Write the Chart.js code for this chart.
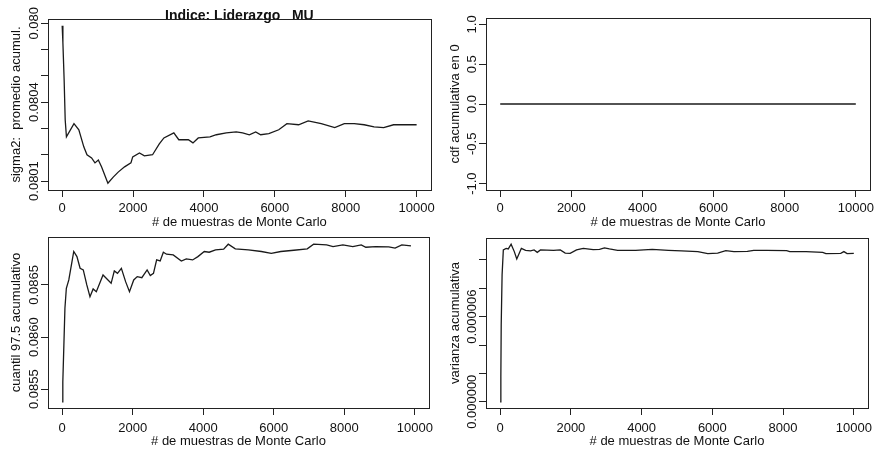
<!DOCTYPE html>
<html>
<head>
<meta charset="utf-8">
<script src="https://cdn.jsdelivr.net/npm/chart.js@4.4.1/dist/chart.umd.min.js"></script>
<style>
  html, body { margin: 0; padding: 0; background: #fff; }
  #page { position: relative; width: 878px; height: 449px; overflow: hidden; background: #fff; }
  canvas { position: absolute; }
</style>
</head>
<body>
<div id="page">
  <canvas id="c1" width="439" height="232" style="left:0;top:0"></canvas>
  <canvas id="c2" width="439" height="232" style="left:439px;top:0"></canvas>
  <canvas id="c3" width="439" height="224" style="left:0;top:225px"></canvas>
  <canvas id="c4" width="439" height="224" style="left:439px;top:225px"></canvas>
</div>
<script>
// textos
const mainTitle = 'Indice: Liderazgo   MU';
const xTitle = '# de muestras de Monte Carlo';
const xTicks = [0, 2000, 4000, 6000, 8000, 10000];

// panel 1: sigma2 promedio acumulado
const xs1 = [0, 20, 55, 85, 120, 333, 470, 610, 700, 830, 925, 1020, 1110, 1290, 1440, 1580, 1760, 1940, 1990, 2180,
  2320, 2550, 2740, 2870, 3150, 3290, 3560, 3690, 3840, 4170, 4350, 4630, 4910, 5090, 5280, 5460, 5600, 5830, 6110, 6340,
  6670, 6940, 7310, 7690, 7960, 8240, 8520, 8800, 9070, 9350, 9630, 10000];
const ys1 = [0.08069, 0.080627, 0.080486, 0.080333, 0.080268, 0.080318, 0.080295, 0.08023, 0.0802, 0.080188, 0.080169, 0.08018,
  0.080154, 0.080092, 0.080115, 0.080134, 0.080154, 0.080169, 0.080192, 0.080207, 0.080196, 0.0802, 0.080241, 0.080264,
  0.080283, 0.080257, 0.080257, 0.080245, 0.080264, 0.080268, 0.080276, 0.080283, 0.080287, 0.080283, 0.080276, 0.080287,
  0.080276, 0.08028, 0.080295, 0.080318, 0.080314, 0.080329, 0.080318, 0.080303, 0.080318, 0.080318, 0.080314, 0.080306,
  0.080303, 0.080314, 0.080314, 0.080314];
const yTicks1 = [0.0801, 0.0802, 0.0803, 0.0804, 0.0805, 0.0806, 0.0807];
const yLabels1 = ['0.0801', '', '', '0.0804', '', '', '0.080'];

// panel 2: cdf acumulativa en 0
const xs2 = [0, 10000];
const ys2 = [0, 0];
const yTicks2 = [-1, -0.5, 0, 0.5, 1];
const yLabels2 = ['-1.0', '-0.5', '0.0', '0.5', '1.0'];

// panel 3: cuantil 97.5 acumulativo
const xs3 = [0, 20, 50, 80, 120, 190, 280, 330, 420, 510, 600, 700, 790, 880, 970, 1160, 1390, 1480, 1570, 1680, 1800,
  1910, 2030, 2130, 2260, 2410, 2500, 2590, 2680, 2780, 2870, 2960, 3150, 3380, 3520, 3700, 3850, 4030, 4170, 4350, 4580,
  4710, 4910, 5280, 5650, 5930, 6200, 6570, 6950, 7130, 7500, 7680, 7960, 8240, 8480, 8610, 8890, 9260, 9440, 9630, 9890];
const ys3 = [0.085378, 0.08557, 0.085923, 0.086276, 0.086468, 0.086548, 0.086724, 0.086821, 0.086772, 0.08666, 0.086644,
  0.0865, 0.086388, 0.086462, 0.086436, 0.086596, 0.086516, 0.086635, 0.086612, 0.08666, 0.086532, 0.086436, 0.086548,
  0.08658, 0.08657, 0.086644, 0.08659, 0.086612, 0.08674, 0.08673, 0.086814, 0.086795, 0.086788, 0.08673, 0.08675, 0.08674,
  0.086772, 0.086821, 0.086814, 0.086837, 0.086843, 0.086891, 0.086846, 0.086837, 0.086821, 0.086804, 0.086821, 0.086833,
  0.086846, 0.086891, 0.086885, 0.086868, 0.086885, 0.086868, 0.086885, 0.086862, 0.086868, 0.086865, 0.086853, 0.086885,
  0.086875];
const yTicks3 = [0.0855, 0.0860, 0.0865];
const yLabels3 = ['0.0855', '0.0860', '0.0865'];

// panel 4: varianza acumulativa
const xs4 = [0, 20, 30, 55, 90, 170, 230, 310, 400, 470, 540, 600, 720, 860, 960, 1050, 1140, 1510, 1700, 1840, 1980,
  2160, 2350, 2630, 2810, 2950, 3090, 3320, 3830, 4300, 4760, 5130, 5590, 5870, 6150, 6380, 6610, 6990, 7170, 7540, 8100,
  8190, 8650, 9120, 9210, 9630, 9720, 9810, 10000];
const ys4 = [0, 1.76e-6, 5.41e-6, 8.94e-6, 10.71e-6, 10.82e-6, 10.78e-6, 11.11e-6, 10.59e-6, 10.07e-6, 10.47e-6, 10.82e-6,
  10.68e-6, 10.64e-6, 10.71e-6, 10.54e-6, 10.71e-6, 10.68e-6, 10.71e-6, 10.49e-6, 10.47e-6, 10.71e-6, 10.82e-6, 10.73e-6,
  10.75e-6, 10.85e-6, 10.78e-6, 10.68e-6, 10.68e-6, 10.75e-6, 10.68e-6, 10.64e-6, 10.59e-6, 10.45e-6, 10.49e-6, 10.66e-6,
  10.59e-6, 10.61e-6, 10.68e-6, 10.68e-6, 10.66e-6, 10.59e-6, 10.59e-6, 10.54e-6, 10.45e-6, 10.47e-6, 10.59e-6, 10.45e-6,
  10.47e-6];
const yTicks4 = [0, 2e-6, 4e-6, 6e-6, 8e-6, 10e-6];
const yLabels4 = ['0.000000', '', '', '0.000006', '', ''];

Chart.defaults.font.family = '"Liberation Sans", Arial, sans-serif';
Chart.defaults.font.size = 13;
Chart.defaults.color = '#111';

// caja de R y etiquetas del eje y giradas
const rAxis = {
  id: 'rAxis',
  afterDraw(chart, args, opts) {
    const {ctx, chartArea: a} = chart;
    const y = chart.scales.y;
    ctx.save();
    ctx.strokeStyle = '#222';
    ctx.lineWidth = 1;
    ctx.strokeRect(Math.round(a.left) + 0.5, Math.round(a.top) + 0.5,
      Math.round(a.right - a.left), Math.round(a.bottom - a.top));
    ctx.fillStyle = '#111';
    ctx.font = '13px "Liberation Sans", Arial, sans-serif';
    ctx.textAlign = 'center';
    ctx.textBaseline = 'middle';
    y.ticks.forEach((t, i) => {
      const lab = opts.labels[i];
      if (!lab) return;
      ctx.save();
      ctx.translate(a.left - opts.offset, y.getPixelForValue(t.value));
      ctx.rotate(-Math.PI / 2);
      ctx.fillText(lab, 0, 0);
      ctx.restore();
    });
    ctx.restore();
  }
};

function makePanel(id, p) {
  const gridOpts = { drawOnChartArea: false, drawTicks: true, tickLength: 7, color: '#222', lineWidth: 1 };
  return new Chart(document.getElementById(id), {
    type: 'line',
    data: {
      datasets: [{
        data: p.xs.map((x, i) => ({ x: x, y: p.ys[i] })),
        borderColor: '#1a1a1a',
        borderWidth: 1.3,
        pointRadius: 0,
        tension: 0,
        fill: false
      }]
    },
    options: {
      responsive: false,
      animation: false,
      events: [],
      layout: { padding: p.pad },
      plugins: {
        legend: { display: false },
        tooltip: { enabled: false },
        title: p.title ? {
          display: true,
          text: p.title,
          fullSize: false,
          color: '#111',
          font: { size: 14, weight: 'bold' },
          padding: { top: 8, bottom: -5.8 }
        } : { display: false },
        rAxis: { labels: p.yLabels, offset: 14 }
      },
      scales: {
        x: {
          type: 'linear',
          min: -400,
          max: 10400,
          afterBuildTicks: s => { s.ticks = xTicks.map(v => ({ value: v })); },
          afterFit: s => { s.height = p.xh; },
          grid: gridOpts,
          border: { display: true, color: '#222', width: 1 },
          ticks: { padding: p.xtp, autoSkip: false, maxRotation: 0, callback: v => String(v) },
          title: { display: true, text: xTitle, padding: { top: 0, bottom: p.xtb } }
        },
        y: {
          type: 'linear',
          min: p.ymin,
          max: p.ymax,
          afterBuildTicks: s => { s.ticks = p.yTicks.map(v => ({ value: v })); },
          afterFit: s => { s.width = p.yw; },
          grid: gridOpts,
          border: { display: true, color: '#222', width: 1 },
          ticks: { display: false },
          title: { display: true, text: p.ytitle, padding: { top: 9, bottom: 0 } }
        }
      }
    },
    plugins: [rAxis]
  });
}

makePanel('c1', { xs: xs1, ys: ys1, yTicks: yTicks1, yLabels: yLabels1, ymin: 0.080066, ymax: 0.080716,
  ytitle: 'sigma2:  promedio acumul.', title: mainTitle,
  pad: { left: 0, right: 4, top: 0, bottom: 0 }, yw: 48, xh: 42, xtp: 4, xtb: 2 });
makePanel('c2', { xs: xs2, ys: ys2, yTicks: yTicks2, yLabels: yLabels2, ymin: -1.08, ymax: 1.08,
  ytitle: 'cdf acumulativa en 0',
  pad: { left: 0, right: 3, top: 18, bottom: 0 }, yw: 47, xh: 42, xtp: 4, xtb: 2 });
makePanel('c3', { xs: xs3, ys: ys3, yTicks: yTicks3, yLabels: yLabels3, ymin: 0.08532, ymax: 0.08696,
  ytitle: 'cuantil 97.5 acumulativo',
  pad: { left: 0, right: 2, top: 12, bottom: 0 }, yw: 48, xh: 41, xtp: 6, xtb: 0 });
makePanel('c4', { xs: xs4, ys: ys4, yTicks: yTicks4, yLabels: yLabels4, ymin: -0.44e-6, ymax: 11.55e-6,
  ytitle: 'varianza acumulativa',
  pad: { left: 0, right: 3, top: 13, bottom: 0 }, yw: 47, xh: 41, xtp: 6, xtb: 0 });
</script>
</body>
</html>
